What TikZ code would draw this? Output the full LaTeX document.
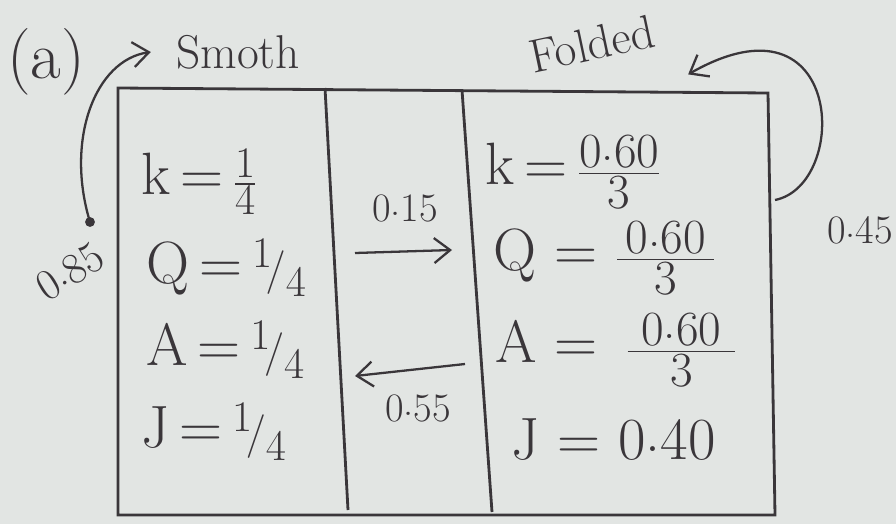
\documentclass[tikz,border=0pt]{standalone}
\usepackage{amsmath}
\usepackage{fontspec}
\usetikzlibrary{arrows.meta,positioning}
\definecolor{paper}{RGB}{226,229,227}
\definecolor{ink}{RGB}{58,54,58}
\newcommand{\mdot}{\raisebox{0.32ex}{.}}
\newcommand{\hfr}[2]{$\frac{\text{\fontsize{28}{30}\selectfont #1}}{\text{\fontsize{28}{30}\selectfont #2}}$}

\begin{document}
\begin{tikzpicture}[x=0.02cm, y=-0.02cm, line width=1.3pt, draw=ink,
  eq/.style={anchor=west, inner sep=0pt, text=ink, font=\fontsize{34}{40}\selectfont},
  lab/.style={inner sep=1pt, text=ink, font=\fontsize{23}{27}\selectfont},
  >={Straight Barb[length=3.2mm,width=5mm]}]
\fill[paper] (0,0) rectangle (896,524);
\useasboundingbox (0,0) rectangle (896,524);

% table
\draw[line width=1.6pt] (118,88) -- (768,93) -- (775,515) -- (118,515) -- cycle;
\draw[line width=1.6pt] (325,88) -- (348,510);
\draw[line width=1.6pt] (462,90) -- (492,512);

% smooth column
\node[eq] (ksm) at (140,182) {k\,=\,$\frac{1}{4}$};
\node[eq] (qsm) at (145,268) {Q\,=\,${}^{1}\!/_{4}$};
\node[eq] (asm) at (145,350) {A\,=\,${}^{1}\!/_{4}$};
\node[eq] (jsm) at (140,432) {J\,=\,${}^{1}\!/_{4}$};

% folded column
\node[eq] (kfo) at (484,172) {k\,=\,\hfr{0\mdot 60}{3}};
\node[eq] (qfo) at (492,258) {Q = \hfr{\,0\mdot 60\,}{3}};
\node[eq] (afo) at (494,350) {A = \,\hfr{\;0\mdot 60\;}{3}};
\node[eq] (jfo) at (510,440) {J = 0\mdot 40};

% transitions
\coordinate (fwdA) at (355,253);
\coordinate (fwdB) at (452,250);
\coordinate (bckA) at (465,364);
\coordinate (bckB) at (355,376);
\draw[->] (fwdA) -- (fwdB);
\draw[->] (bckA) -- (bckB);
\node[lab] (pfwd) at (405,208) {0\mdot 15};
\node[lab] (pbck) at (418,408) {0\mdot 55};

% outside labels
\node[text=ink, font=\fontsize{38}{42}\selectfont] (tag) at (46,62) {(a)};
\node[lab, font=\fontsize{27}{30}\selectfont] (smoth) at (238,52) {Smoth};
\node[lab, rotate=12, font=\fontsize{27}{30}\selectfont] (folded) at (592,44) {Folded};
\node[lab, rotate=32, font=\fontsize{25}{28}\selectfont] (pout) at (70,272) {0\mdot 85};
\node[lab] (pstay) at (860,230) {0\mdot 45};

% loops
\coordinate (dotL) at (90,222);
\fill[ink] (dotL) circle (2.8pt);
\draw[->] (dotL) .. controls (65,140) and (95,60) .. ([xshift=-0.45cm]smoth.west);
\coordinate (boxR) at (775,200);
\draw[->] (boxR) .. controls (850,185) and (845,-15) .. ([shift={(0.55cm,-0.5cm)}]folded.south east);
\end{tikzpicture}
\end{document}
